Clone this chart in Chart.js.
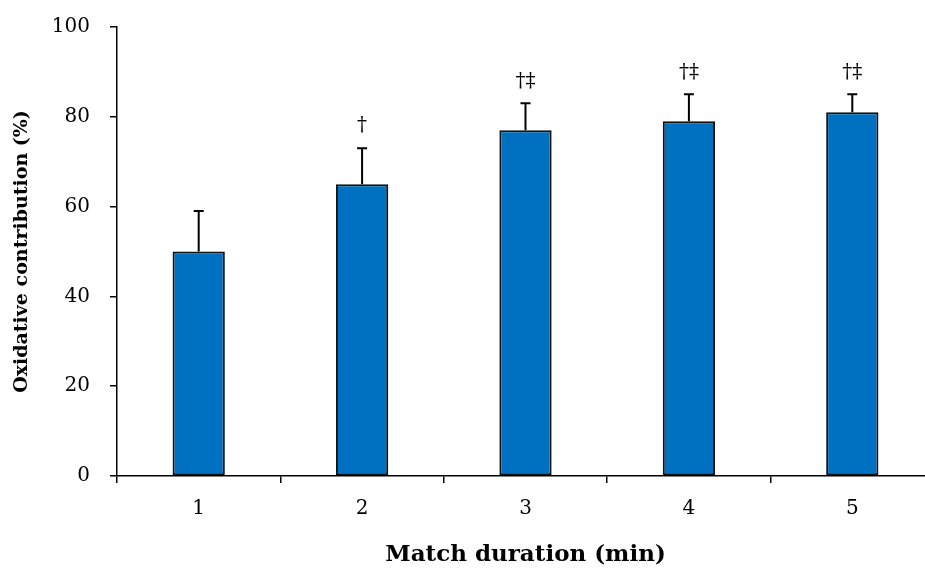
<!DOCTYPE html>
<html>
<head>
<meta charset="utf-8">
<script src="https://cdn.jsdelivr.net/npm/chart.js@4.4.0/dist/chart.umd.min.js"></script>
<style>
  html, body { margin: 0; padding: 0; background: #fff; overflow: hidden; }
  #wrap { width: 945px; height: 576px; }
</style>
</head>
<body>
<div id="wrap"><canvas id="chart" width="945" height="576"></canvas></div>
<script>
// Oxidative contribution per minute of match, mean + SD
const minutes = ['1', '2', '3', '4', '5'];
const oxidative = [50, 65, 77, 79, 81];
const oxidativeSD = [9, 8, 6, 6, 4];
const marks = ['', '†', '†‡', '†‡', '†‡'];
const yTicks = [0, 20, 40, 60, 80, 100];

const FONT = '"DejaVu Serif", "Liberation Serif", serif';

// upward-only error bars with a short cap, plus significance symbols
const errorBars = {
  id: 'errorBars',
  afterDatasetsDraw(chart) {
    const ctx = chart.ctx;
    const y = chart.scales.y;
    const meta = chart.getDatasetMeta(0);
    ctx.save();
    ctx.strokeStyle = '#000';
    ctx.lineWidth = 2;
    meta.data.forEach((bar, i) => {
      const top = y.getPixelForValue(oxidative[i]);
      const end = y.getPixelForValue(oxidative[i] + oxidativeSD[i]);
      ctx.beginPath();
      ctx.moveTo(bar.x, top);
      ctx.lineTo(bar.x, end);
      ctx.moveTo(bar.x - 5, end);
      ctx.lineTo(bar.x + 5, end);
      ctx.stroke();
      if (marks[i]) {
        ctx.fillStyle = '#000';
        ctx.font = '20px ' + FONT;
        ctx.textAlign = 'center';
        ctx.textBaseline = 'bottom';
        ctx.fillText(marks[i], bar.x, end - 12);
      }
    });
    ctx.restore();
  }
};

new Chart(document.getElementById('chart'), {
  type: 'bar',
  data: {
    labels: minutes,
    datasets: [{
      data: oxidative,
      backgroundColor: '#0070C0',
      borderColor: '#111',
      borderWidth: 2,
      borderSkipped: false,
      categoryPercentage: 1,
      barPercentage: 0.32,
    }],
  },
  options: {
    responsive: false,
    animation: false,
    layout: { padding: { top: 27, right: 11, left: 0, bottom: 0 } },
    plugins: {
      legend: { display: false },
      tooltip: { enabled: false },
    },
    scales: {
      x: {
        offset: true,
        grid: { offset: true, drawOnChartArea: false, drawTicks: true, tickLength: 7, color: '#000', lineWidth: 1.5 },
        border: { color: '#000', width: 1.5 },
        ticks: { color: '#000', font: { family: FONT, size: 20 }, padding: 14 },
        title: {
          display: true,
          text: 'Match duration (min)',
          color: '#000',
          font: { family: FONT, size: 23, weight: 'bold' },
          padding: { top: 8, bottom: 7 },
        },
        afterFit(scale) {
          scale.height = 100;
          scale.paddingLeft = 0;
          scale.paddingRight = 0;
        },
      },
      y: {
        min: 0,
        max: 100,
        afterBuildTicks(scale) { scale.ticks = yTicks.map(v => ({ value: v })); },
        grid: { drawOnChartArea: false, drawTicks: true, tickLength: 7, color: '#000', lineWidth: 1.5 },
        border: { color: '#000', width: 1.5 },
        ticks: { color: '#000', font: { family: FONT, size: 20 }, padding: 20 },
        title: {
          display: true,
          text: 'Oxidative contribution (%)',
          color: '#000',
          font: { family: FONT, size: 19, weight: 'bold' },
          padding: { top: 11, bottom: 0 },
        },
        afterFit(scale) {
          scale.width = 117;
          scale.paddingTop = 0;
          scale.paddingBottom = 0;
        },
      },
    },
  },
  plugins: [errorBars],
});
</script>
</body>
</html>
